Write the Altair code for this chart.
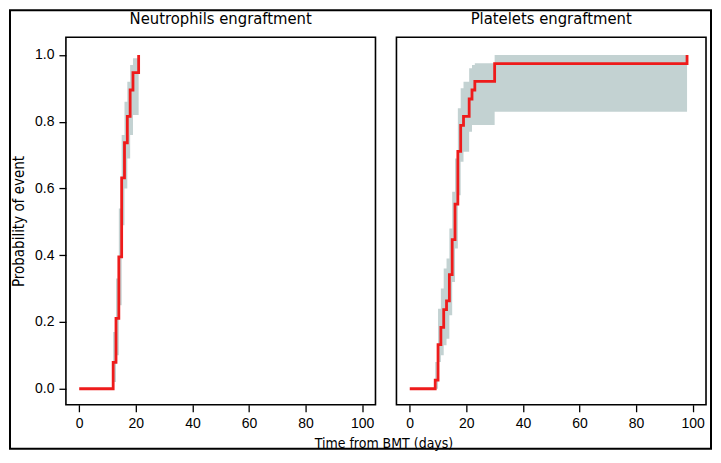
import altair as alt
import pandas as pd

# ---- data ----
panel_titles = ["Neutrophils engraftment", "Platelets engraftment"]
x_ticks = [0, 20, 40, 60, 80, 100]
y_ticks = [0.0, 0.2, 0.4, 0.6, 0.8, 1.0]

neu_time = [0, 12, 13, 14, 15, 16, 17, 18, 19, 21]
neu_est = [0.0, 0.079, 0.211, 0.395, 0.632, 0.737, 0.816, 0.895, 0.947, 1.0]
neu_lo = [0.0, 0.02, 0.10, 0.25, 0.49, 0.60, 0.69, 0.76, 0.82, 1.0]
neu_hi = [0.0, 0.17, 0.33, 0.54, 0.76, 0.86, 0.92, 0.97, 0.99, 1.0]

plt_time = [0, 9, 10, 11, 12, 13, 14, 15, 16, 17, 18, 19, 21, 22, 23, 30, 98]
plt_est = [0.0, 0.026, 0.132, 0.184, 0.237, 0.263, 0.342, 0.447, 0.553,
           0.711, 0.789, 0.816, 0.868, 0.895, 0.921, 0.974, 1.0]
plt_lo = [0.0, 0.0, 0.08, 0.10, 0.13, 0.15, 0.22, 0.32, 0.42,
          0.58, 0.68, 0.71, 0.77, 0.79, 0.79, 0.83, 1.0]
plt_hi = [0.0, 0.08, 0.24, 0.30, 0.36, 0.39, 0.48, 0.59, 0.69,
          0.84, 0.90, 0.92, 0.96, 0.97, 0.975, 1.0, 1.0]

RED = "#ee1b1b"
BAND = "#c3d2d2"
NARROW = "Liberation Sans Narrow, DejaVu Sans Condensed, Arial Narrow, sans-serif"
REG = "Liberation Sans, Arial, Helvetica, sans-serif"

W, H = 310, 368
xs = alt.Scale(domain=[-4.7, 104.7], nice=False, zero=False)
ys = alt.Scale(domain=[-0.048, 1.053], nice=False, zero=False)


def panel(t, est, lo, hi, title, first):
    df = pd.DataFrame({"t": t, "est": est, "lo": lo, "hi": hi})
    common = dict(values=x_ticks, domain=False, grid=False, tickSize=7, tickWidth=1.3,
                  tickColor="black", labelFont=REG, labelFontSize=14, labelColor="black",
                  labelPadding=5)
    if first:
        xaxis = alt.Axis(title="Time from BMT (days)", titleX=318, titleFont=NARROW,
                         titleFontSize=14, titleFontWeight="normal", titleColor="black",
                         titlePadding=6, **common)
        yaxis = alt.Axis(values=y_ticks, format=".1f", title="Probability of event",
                         domain=False, grid=False, tickSize=7, tickWidth=1.3,
                         tickColor="black", labelFont=REG, labelFontSize=14,
                         labelColor="black", labelPadding=5, titleFont=NARROW,
                         titleFontSize=15, titleFontWeight="normal", titleColor="black",
                         titlePadding=8)
    else:
        xaxis = alt.Axis(title=None, **common)
        yaxis = None
    band = alt.Chart(df).mark_area(interpolate="step-after", color=BAND, opacity=1).encode(
        x=alt.X("t:Q", scale=xs, axis=xaxis),
        y=alt.Y("lo:Q", scale=ys, axis=yaxis),
        y2="hi:Q",
    )
    line = alt.Chart(df).mark_line(interpolate="step-after", color=RED, strokeWidth=2.8).encode(
        x=alt.X("t:Q", scale=xs, axis=xaxis),
        y=alt.Y("est:Q", scale=ys, axis=yaxis),
    )
    head = alt.Chart(pd.DataFrame({"label": [title]})).mark_text(
        font=NARROW, fontSize=16.5, color="black", align="center", baseline="alphabetic",
        clip=False,
    ).encode(text="label:N", x=alt.value(W / 2), y=alt.value(-13))
    layers = [band, line, head]
    if first:
        border = alt.Chart(pd.DataFrame({"b": [0]})).mark_rect(
            filled=False, stroke="black", strokeWidth=2, clip=False
        ).encode(
            x=alt.value(-56), x2=alt.value(646), y=alt.value(-27), y2=alt.value(412)
        )
        layers.append(border)
    return alt.layer(*layers).properties(width=W, height=H)


left = panel(neu_time, neu_est, neu_lo, neu_hi, panel_titles[0], True)
right = panel(plt_time, plt_est, plt_lo, plt_hi, panel_titles[1], False)

chart = alt.hconcat(left, right, spacing=21, bounds="flush").properties(
    padding={"left": 0, "top": 0, "right": 0, "bottom": 0}
).configure_view(stroke="black", strokeWidth=1.6)

chart.save("out.html", embed_options={"renderer": "svg", "actions": False})
